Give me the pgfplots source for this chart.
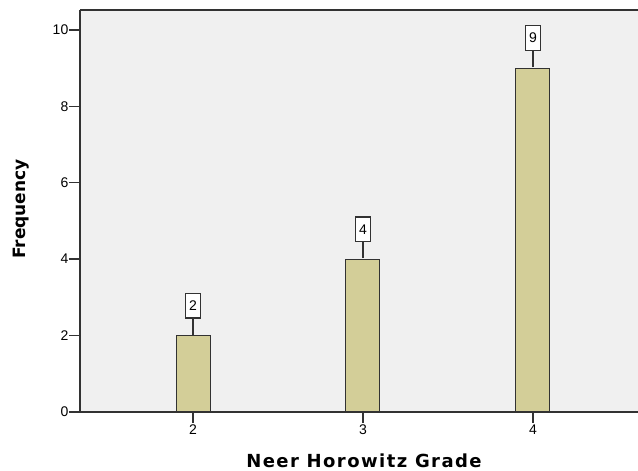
\documentclass[border=0pt]{standalone}
\usepackage{fontspec}
\setmainfont{Liberation Sans}
\newfontfamily\labelfont{DejaVu Sans}
\newfontfamily\xlabelfont[LetterSpace=8]{DejaVu Sans}
\usepackage{pgfplots}
\pgfplotsset{compat=1.18}
\usepackage{pgfplotstable}

\definecolor{barfill}{RGB}{211,206,152}
\definecolor{panel}{RGB}{240,240,240}
\definecolor{edge}{RGB}{50,50,50}

% grade, frequency, gap between bar top and label box (pt)
\pgfplotstableread{
grade freq off
2 2 19
3 4 2
4 9 9
}\grades

\begin{document}
\begin{tikzpicture}[
  every pin edge/.style={draw=edge, line width=1.3pt},
  every pin/.style={draw=edge, line width=1.3pt, fill=white, inner xsep=3.5pt, inner ysep=7.5pt,
    font=\fontsize{14}{16}\selectfont},
]
\begin{axis}[
  at={(0,0)}, anchor=south west,
  scale only axis, width=558pt, height=402pt,
  xmin=1.335, xmax=4.618, ymin=0, ymax=10.52,
  ybar, bar width=34pt,
  axis x line*=bottom, axis y line*=left,
  axis line style={-, draw=edge, line width=1.4pt},
  axis background/.style={fill=panel},
  xtick={2,3,4}, ytick={0,2,4,6,8,10},
  tick align=outside, major tick length=11pt,
  tick style={draw=edge, line width=1.3pt},
  /pgf/number format/assume math mode=true,
  ticklabel style={font=\fontsize{14}{16}\selectfont},
  yticklabel style={inner xsep=0.5pt},
  xticklabel style={inner ysep=2pt},
  xlabel={Neer Horowitz Grade}, ylabel={Frequency},
  every axis x label/.style={at={(axis description cs:0.5,0)}, yshift=-56pt, xshift=5pt, anchor=base,
    inner sep=0pt, font=\xlabelfont\bfseries\fontsize{18}{20}\selectfont},
  every axis y label/.style={at={(axis description cs:0,0.5)}, xshift=-59pt, yshift=2pt, rotate=90, anchor=center,
    inner sep=0pt, font=\labelfont\bfseries\fontsize{17}{19}\selectfont},
  extra description/.code={\draw[edge, line width=1.3pt] (axis description cs:0,1) -- (axis description cs:1,1);},
]
\addplot[fill=barfill, draw=edge, line width=1pt,
  visualization depends on={\thisrow{off}\as\off},
  nodes near coords={\relax},
  every node near coord/.style={inner sep=0pt, minimum size=0pt, anchor=south,
    pin distance=\off pt,
    pin={90:{\pgfmathprintnumber{\pgfplotspointmeta}}}},
] table[x=grade, y=freq] {\grades};
\end{axis}
\pgfresetboundingbox
\path (-80pt,-59pt) rectangle (558pt,412pt);
\end{tikzpicture}
\end{document}
